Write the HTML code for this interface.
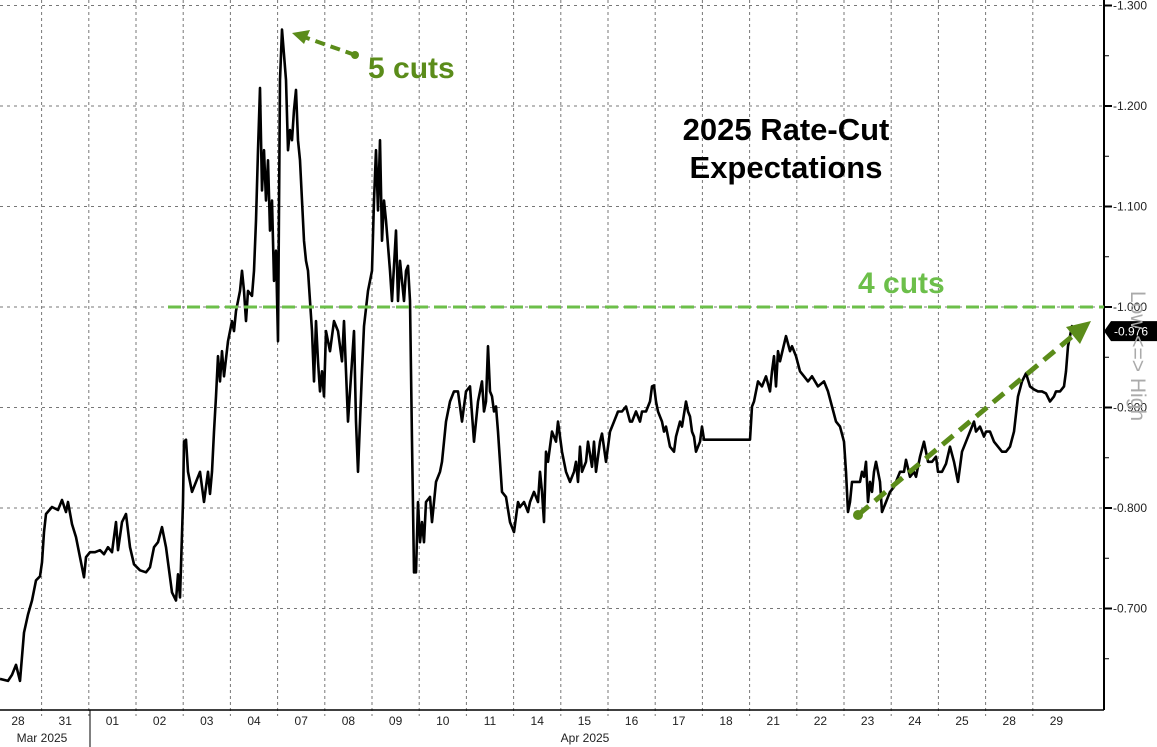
<!DOCTYPE html>
<html><head><meta charset="utf-8"><style>
html,body{margin:0;padding:0;background:#fff;}
svg{display:block;font-family:"Liberation Sans",Arial,sans-serif;}
</style></head><body>
<svg id="chart" width="1157" height="747" viewBox="0 0 1157 747">
<g id="grid"></g>
<g id="axes"></g>
<g id="series"></g>
<g id="annot"></g>
</svg>
<script>
const dayLabels = ["28","31","01","02","03","04","07","08","09","10","11","14","15","16","17","18","21","22","23","24","25","28","29"];
const yTicks = [0.7,0.8,0.9,1.0,1.1,1.2,1.3];
const yTickLabels = ["-0.700","-0.800","-0.900","-1.000","-1.100","-1.200","-1.300"];
const lastValue = 0.976;
const cutLevel = 1.0;
const times = [0,4,6,8,10,12,14,16,18,20,21,22,23,26,29,31,33,34,36,38,40,42,43,45,47.5,50,52,54,56,58,59,61,63,65,67,70,73,75,77,79,81,83,86,88,89,90,91.5,92,93,94,96,98,100,102,104,105,106,107,108,109,110,111,112,114,116,117,118,119,120,121,122,123,124,126,127,128,129,130,131,132,133,134,135,136,137,138,139,140,141,143,144,145,146,147,148,149,150,151,152,153,154,155,156,157,158,159,160,161,162,163,165,167,169,171,172,174,175,177,178,179,181,182,184,186,187,188,189,190,191,192,193,195,196,198,199,200,202,203,204,205,206,207,208,209,210,211,212,213,215,216,217,218,220,221,223,225,227,229,231,233,235,237,239,241,242,243,244,245,246,247,248,249,251,253,255,256,257,259,260,262,264,265,267,269,270,271,272,273,274,276,278,279,281,283,285,287,288,289,290,291,293,294,296,297,298,300,301,303,305,306,307,309,311,313,315,316,318,320,321,323,325,326,327,328,329,331,332,333,335,337,338,340,341,343,344,345,346,347,348,350,351,352,353,375,376,377,379,381,383,385,386,387,388,389,390,393,395,396,398,400,402,404,406,409,412,414,416,418,420,422,423,424,425,426,428,430,431,432,433,434,435,436,437,438,440,441,443,445,447,448,450,452,453,455,457,458,460,462,464,466,468,469,471,473,475,477,479,480,481,483,485,487,488,490,492,493,495,497,499,501,503,505,507,509,511,513,515,517,519,521,523,525,527,528,530,532,533,534,535,536,537];
const values = [.630,.628,.634,.644,.628,.676,.694,.708,.728,.732,.746,.776,.794,.801,.798,.808,.796,.806,.784,.771,.751,.731,.751,.756,.756,.758,.754,.761,.756,.786,.758,.786,.794,.761,.744,.738,.736,.741,.761,.766,.781,.761,.716,.708,.734,.711,.806,.866,.868,.836,.816,.826,.836,.806,.836,.814,.836,.876,.911,.951,.926,.956,.931,.966,.986,.976,.996,1.006,1.016,1.036,1.016,.986,1.016,1.011,1.036,1.086,1.156,1.218,1.116,1.156,1.106,1.146,1.076,1.106,1.026,1.056,.966,1.226,1.276,1.226,1.156,1.176,1.166,1.196,1.216,1.166,1.146,1.106,1.066,1.046,1.036,1.006,.976,.926,.986,.946,.916,.936,.911,.976,.956,.986,.976,.946,.986,.886,.916,.976,.886,.836,.936,.981,1.016,1.036,1.106,1.156,1.096,1.166,1.066,1.106,1.086,1.036,1.006,1.076,1.006,1.046,1.006,1.036,1.041,1.006,.866,.736,.736,.806,.766,.786,.766,.806,.811,.786,.806,.826,.836,.846,.886,.906,.916,.916,.886,.916,.921,.866,.906,.926,.896,.906,.961,.916,.911,.896,.901,.876,.816,.811,.786,.781,.776,.806,.801,.806,.796,.806,.816,.806,.836,.816,.786,.856,.846,.876,.866,.886,.856,.836,.826,.836,.846,.826,.861,.836,.846,.866,.841,.866,.836,.866,.874,.846,.876,.881,.886,.896,.896,.901,.886,.886,.896,.886,.896,.896,.906,.921,.922,.906,.896,.886,.876,.881,.861,.856,.871,.886,.881,.906,.896,.891,.876,.871,.856,.866,.881,.868,.868,.868,.901,.906,.926,.921,.931,.916,.936,.951,.921,.956,.946,.971,.956,.961,.951,.936,.931,.926,.931,.921,.926,.916,.901,.886,.881,.866,.836,.796,.806,.826,.826,.826,.836,.831,.846,.806,.826,.816,.836,.846,.826,.796,.806,.816,.821,.826,.836,.836,.848,.831,.836,.831,.851,.866,.846,.846,.851,.836,.836,.844,.861,.846,.826,.841,.856,.866,.876,.886,.876,.881,.871,.876,.876,.866,.861,.856,.856,.861,.876,.911,.926,.934,.921,.918,.916,.916,.914,.906,.911,.916,.916,.921,.936,.961,.971,.981,.978];

const NS="http://www.w3.org/2000/svg";
const PLOT_RIGHT=1104, PLOT_BOTTOM=710, DAY=23.6, DAY0=9;
function xs(t){return t*2;}
function ys(v){return 307-(v-1)*1005;}
function mk(tag,attrs,parent){const e=document.createElementNS(NS,tag);for(const k in attrs)e.setAttribute(k,attrs[k]);parent.appendChild(e);return e;}
const grid=document.getElementById('grid'),axes=document.getElementById('axes'),series=document.getElementById('series'),annot=document.getElementById('annot');

// horizontal grid + ticks
yTicks.forEach((v,i)=>{
  const y=ys(v);
  const g=mk('line',{x1:0,x2:PLOT_RIGHT,y1:y,y2:y,stroke:'#777','stroke-width':1,'stroke-dasharray':'3,4'},grid);
  
  
  const tk=mk('line',{x1:PLOT_RIGHT,x2:PLOT_RIGHT+8,y1:y,y2:y,stroke:'#000','stroke-width':2},axes);
  
  
  const tx=mk('text',{x:PLOT_RIGHT+9,y:y+4,'font-size':12,fill:'#222'},axes);
  tx.textContent=yTickLabels[i];
  
  
});
for(let v=0.65;v<1.3;v+=0.1){
  const y=ys(v);
  const m=mk('line',{x1:PLOT_RIGHT,x2:PLOT_RIGHT+5,y1:y,y2:y,stroke:'#000','stroke-width':1},axes);
  
  
}
// vertical grid + day labels
dayLabels.forEach((d,i)=>{
  const c=xs(DAY0+DAY*i);
  if(i<dayLabels.length-1){
    const gx=xs(DAY0+DAY*(i+0.5));
    const g=mk('line',{x1:gx,x2:gx,y1:0,y2:PLOT_BOTTOM+6,stroke:'#777','stroke-width':1,'stroke-dasharray':'3,3'},grid);
    
    
  }
  const t=mk('text',{x:c,y:725,'font-size':12,fill:'#222','text-anchor':'middle'},axes);
  t.textContent=d;
  
  
});
</script>
<script>
// axes lines
(function(){
  let a=mk('line',{x1:PLOT_RIGHT,x2:PLOT_RIGHT,y1:0,y2:PLOT_BOTTOM,stroke:'#000','stroke-width':2},axes);
  
  
  a=mk('line',{x1:0,x2:PLOT_RIGHT,y1:PLOT_BOTTOM,y2:PLOT_BOTTOM,stroke:'#000','stroke-width':1.5},axes);
  
  
  a=mk('line',{x1:90,x2:90,y1:PLOT_BOTTOM,y2:747,stroke:'#000','stroke-width':1},axes);
  
  
  let t=mk('text',{x:42,y:742,'font-size':12,fill:'#222','text-anchor':'middle'},axes);
  t.textContent='Mar 2025';
  
  
  t=mk('text',{x:585,y:742,'font-size':12,fill:'#222','text-anchor':'middle'},axes);
  t.textContent='Apr 2025';
  
  

  // 4 cuts line
  const ly=ys(cutLevel);
  let l=mk('line',{x1:168,x2:PLOT_RIGHT,y1:ly,y2:ly,stroke:'#6cbf4a','stroke-width':3,'stroke-dasharray':'13,6'},annot);
  
  

  // series
  const d=times.map((tt,i)=>(i?'L':'M')+xs(tt).toFixed(1)+','+ys(values[i]).toFixed(1)).join('');
  const p=mk('path',{d:d,fill:'none',stroke:'#000','stroke-width':2.6,'stroke-linejoin':'round'},series);
  
  

  // last value badge
  const by=ys(lastValue);
  const b=mk('path',{d:`M1104,${by} L1111,${by-10} L1157,${by-10} L1157,${by+10} L1111,${by+10} Z`,fill:'#000'},axes);
  
  
  t=mk('text',{x:1114,y:by+4.5,'font-size':12,fill:'#fff'},axes);
  t.textContent='-'+lastValue.toFixed(3);
  
  

  // rotated axis title
  t=mk('text',{x:0,y:0,'font-size':21,fill:'#aaa','text-anchor':'middle',transform:'translate(1131,356) rotate(90)'},axes);
  t.textContent='Low <=> High';
  
  

  // arrows
  const dg='#5b8c1a';
  let s=mk('line',{x1:355,y1:55,x2:304,y2:37,stroke:dg,'stroke-width':4,'stroke-dasharray':'10,6'},annot);
  
  
  s=mk('polygon',{points:'292,33 310,30 304,44',fill:dg},annot);
  
  
  s=mk('circle',{cx:355,cy:55,r:4,fill:dg},annot);
  
  
  s=mk('line',{x1:858,y1:515,x2:1075,y2:334,stroke:dg,'stroke-width':5,'stroke-dasharray':'14,8'},annot);
  
  
  s=mk('polygon',{points:'1091,321 1080,344 1066,327',fill:dg},annot);
  
  
  s=mk('circle',{cx:858,cy:515,r:5,fill:dg},annot);
  
  

  t=mk('text',{x:368,y:78,'font-size':30,'font-weight':'bold',fill:'#5b8c1a'},annot);
  t.textContent='5 cuts';
  
  
  t=mk('text',{x:858,y:293,'font-size':30,'font-weight':'bold',fill:'#6cbf4a'},annot);
  t.textContent='4 cuts';
  
  
  t=mk('text',{x:786,y:140,'font-size':31,'font-weight':'bold',fill:'#000','text-anchor':'middle'},annot);
  t.textContent='2025 Rate-Cut';
  
  
  t=mk('text',{x:786,y:178,'font-size':31,'font-weight':'bold',fill:'#000','text-anchor':'middle'},annot);
  t.textContent='Expectations';
  
  
})();
</script>
</body></html>
